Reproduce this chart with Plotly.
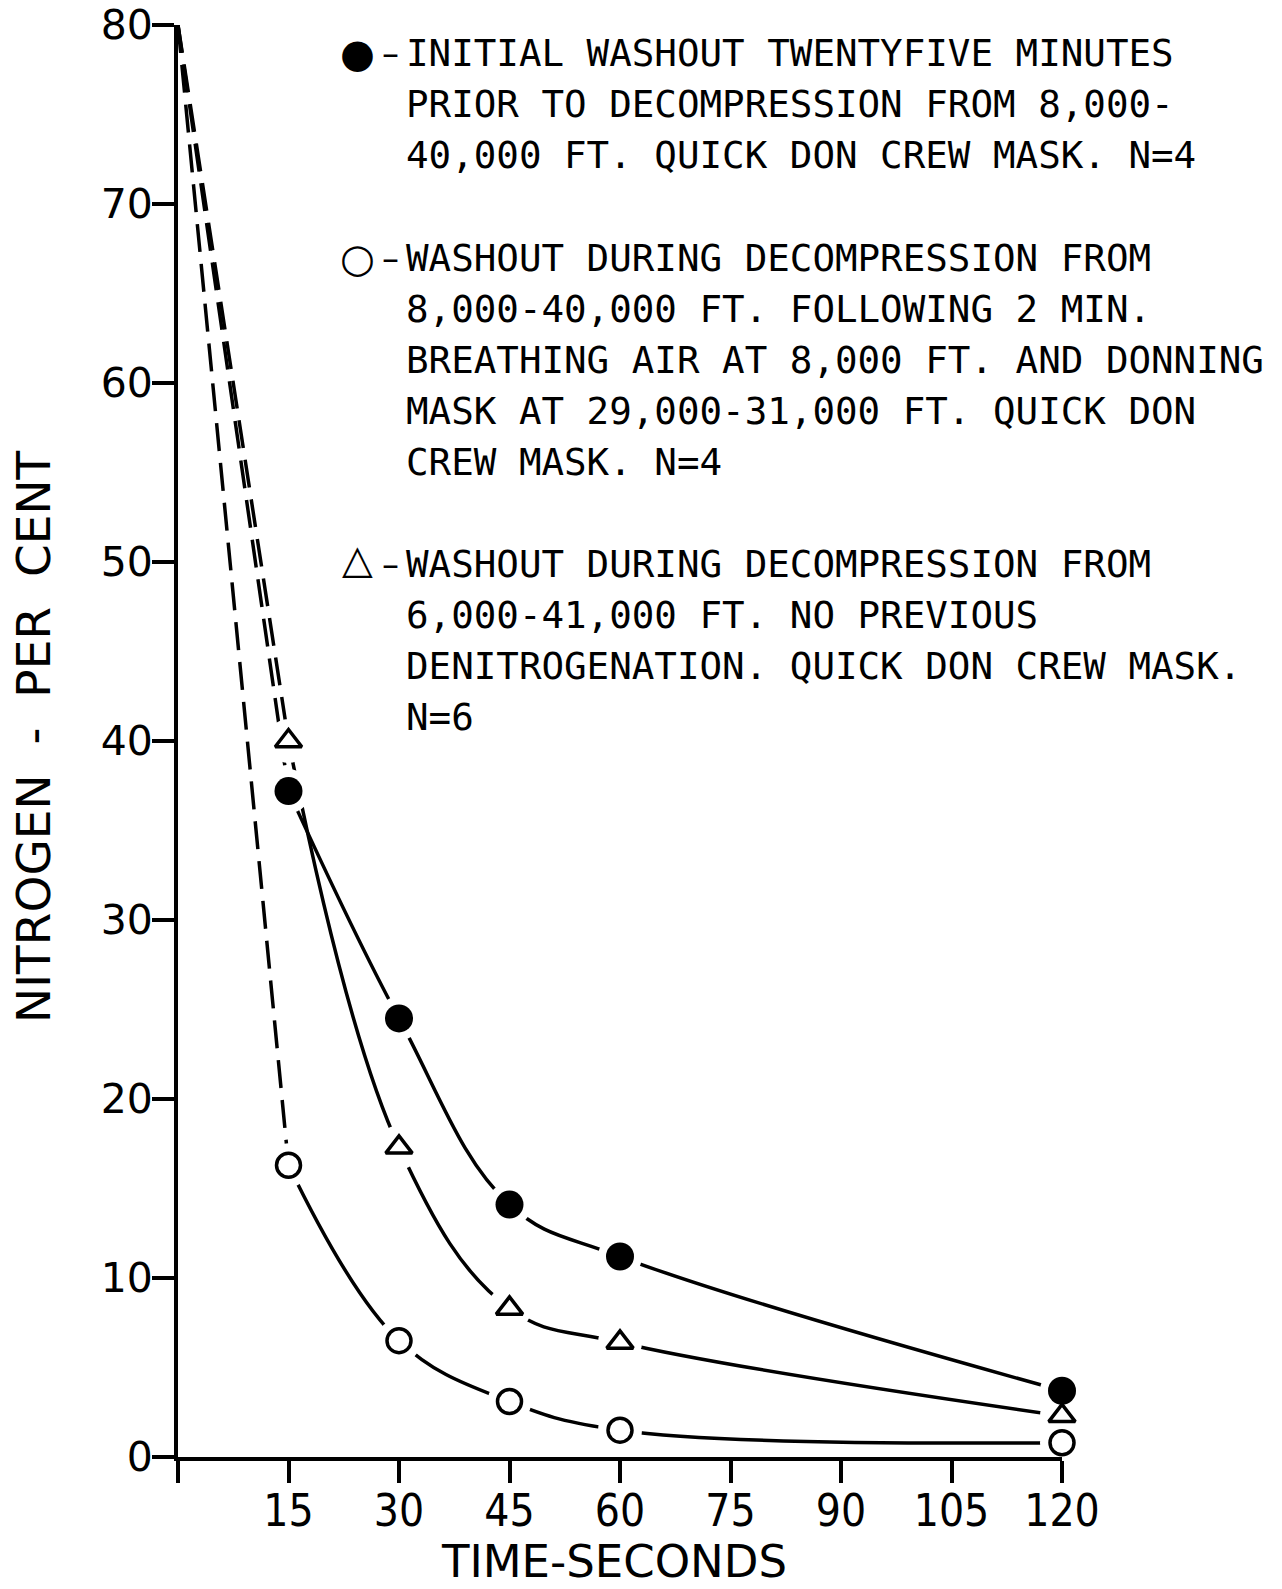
import plotly.graph_objects as go

# ---------------- data ----------------
times = [15, 30, 45, 60, 120]
initial_washout = [37.2, 24.5, 14.1, 11.2, 3.7]        # filled circles
washout_2min_air = [16.3, 6.5, 3.1, 1.5, 0.8]           # open circles
washout_no_denit = [40.0, 17.3, 8.3, 6.4, 2.3]          # triangles
start_time = 0
start_n2 = 80

x_ticks = [0, 15, 30, 45, 60, 75, 90, 105, 120]
x_ticktext = ["", "15", "30", "45", "60", "75", "90", "105", "120"]
y_ticks = [0, 10, 20, 30, 40, 50, 60, 70, 80]

legend_blocks = [
    ("●", ["INITIAL WASHOUT TWENTYFIVE MINUTES",
           "PRIOR TO DECOMPRESSION FROM 8,000-",
           "40,000 FT. QUICK DON CREW MASK. N=4"]),
    ("○", ["WASHOUT DURING DECOMPRESSION FROM",
           "8,000-40,000 FT. FOLLOWING 2 MIN.",
           "BREATHING AIR AT 8,000 FT. AND DONNING",
           "MASK AT 29,000-31,000 FT. QUICK DON",
           "CREW MASK. N=4"]),
    ("△", ["WASHOUT DURING DECOMPRESSION FROM",
           "6,000-41,000 FT. NO PREVIOUS",
           "DENITROGENATION. QUICK DON CREW MASK.",
           "N=6"]),
]

# ---------------- geometry / style ----------------
W, H = 1282, 1589
L, R, T, B = 178, 220, 25, 132
INK = "black"
FONT = "DejaVu Sans, Liberation Sans, sans-serif"
MONO = "DejaVu Sans Mono, Liberation Mono, monospace"
NARROW = "DejaVu Sans Condensed, Liberation Sans Narrow, DejaVu Sans, sans-serif"

def px_to_paper(px, py):
    return (px - L) / (W - L - R), (H - B - py) / (H - T - B)

fig = go.Figure()

series = [
    (initial_washout, dict(symbol="circle", size=28, color=INK, line=dict(width=0))),
    (washout_2min_air, dict(symbol="circle", size=24, color="white", line=dict(color=INK, width=3.5))),
    (washout_no_denit, dict(symbol="triangle-up", size=23, color="white", line=dict(color=INK, width=3.5))),
]

# dashed initial drops
for vals, _ in series:
    fig.add_trace(go.Scatter(x=[start_time, times[0]], y=[start_n2, vals[0]], mode="lines",
                             line=dict(color=INK, width=3.5, dash="28px,12px"),
                             hoverinfo="skip", showlegend=False, cliponaxis=False))
# smooth solid curves
for vals, _ in series:
    fig.add_trace(go.Scatter(x=times, y=vals, mode="lines",
                             line=dict(color=INK, width=3.5, shape="spline", smoothing=1.1),
                             hoverinfo="skip", showlegend=False, cliponaxis=False))
# white halos (gaps around the symbols)
for vals, m in series:
    fig.add_trace(go.Scatter(x=times, y=vals, mode="markers",
                             marker=dict(symbol="circle", size=44, color="white", line=dict(width=0)),
                             hoverinfo="skip", showlegend=False, cliponaxis=False))
# markers
for vals, m in series:
    fig.add_trace(go.Scatter(x=times, y=vals, mode="markers", marker=m,
                             showlegend=False, cliponaxis=False))

annotations = []
# axis titles
ax, ay = px_to_paper(614, H)
annotations.append(dict(text="TIME-SECONDS", x=ax, y=ay, xref="paper", yref="paper",
                        xanchor="center", yanchor="bottom", showarrow=False, borderpad=0,
                        font=dict(family=FONT, size=45, color=INK)))
ax, ay = px_to_paper(33, 737)
annotations.append(dict(text="NITROGEN\u00a0 - \u00a0PER\u00a0 CENT", x=ax, y=ay, xref="paper", yref="paper",
                        xanchor="center", yanchor="middle", showarrow=False, textangle=-90,
                        font=dict(family=FONT, size=47, color=INK)))

# legend text blocks
block_tops = [53, 258, 564]
sym_dy = [0, 0, -5]
line_gap = 50.9
for (sym, lines), top, sdy in zip(legend_blocks, block_tops, sym_dy):
    sx, sy = px_to_paper(357, top + sdy)
    annotations.append(dict(text=sym, x=sx, y=sy, xref="paper", yref="paper",
                            xanchor="center", yanchor="middle", showarrow=False,
                            font=dict(family=FONT, size=40, color=INK)))
    dx, dy = px_to_paper(390, top)
    annotations.append(dict(text="\u2013", x=dx, y=dy, xref="paper", yref="paper",
                            xanchor="center", yanchor="middle", showarrow=False,
                            font=dict(family=FONT, size=34, color=INK)))
    for i, ln in enumerate(lines):
        tx, ty = px_to_paper(404, top + i * line_gap)
        annotations.append(dict(text=ln, x=tx, y=ty, xref="paper", yref="paper",
                                xanchor="left", yanchor="middle", showarrow=False,
                                font=dict(family=MONO, size=37.5, color=INK)))

fig.update_layout(
    width=W, height=H, autosize=False,
    margin=dict(l=L, r=R, t=T, b=B, pad=0),
    paper_bgcolor="white", plot_bgcolor="white",
    annotations=annotations,
    showlegend=False,
)
fig.update_xaxes(range=[0, 120], tickvals=x_ticks, ticktext=x_ticktext, automargin=False,
                 showline=True, linecolor=INK, linewidth=4, mirror=False,
                 ticks="outside", ticklen=22, tickwidth=3.5, tickcolor=INK,
                 showgrid=False, zeroline=False, ticklabelstandoff=-10,
                 ticklabeloverflow="allow",
                 tickfont=dict(family=NARROW, size=44, color=INK))
fig.update_yaxes(range=[0, 80], tickvals=y_ticks, automargin=False,
                 showline=True, linecolor=INK, linewidth=4, mirror=False,
                 ticks="outside", ticklen=22, tickwidth=3.5, tickcolor=INK,
                 showgrid=False, zeroline=False, ticklabelstandoff=-9,
                 ticklabeloverflow="allow",
                 tickfont=dict(family=FONT, size=41, color=INK))

fig.write_html("out.html", config={"displayModeBar": False},
               post_script="document.body.style.margin='0px';document.body.style.overflow='hidden';")
